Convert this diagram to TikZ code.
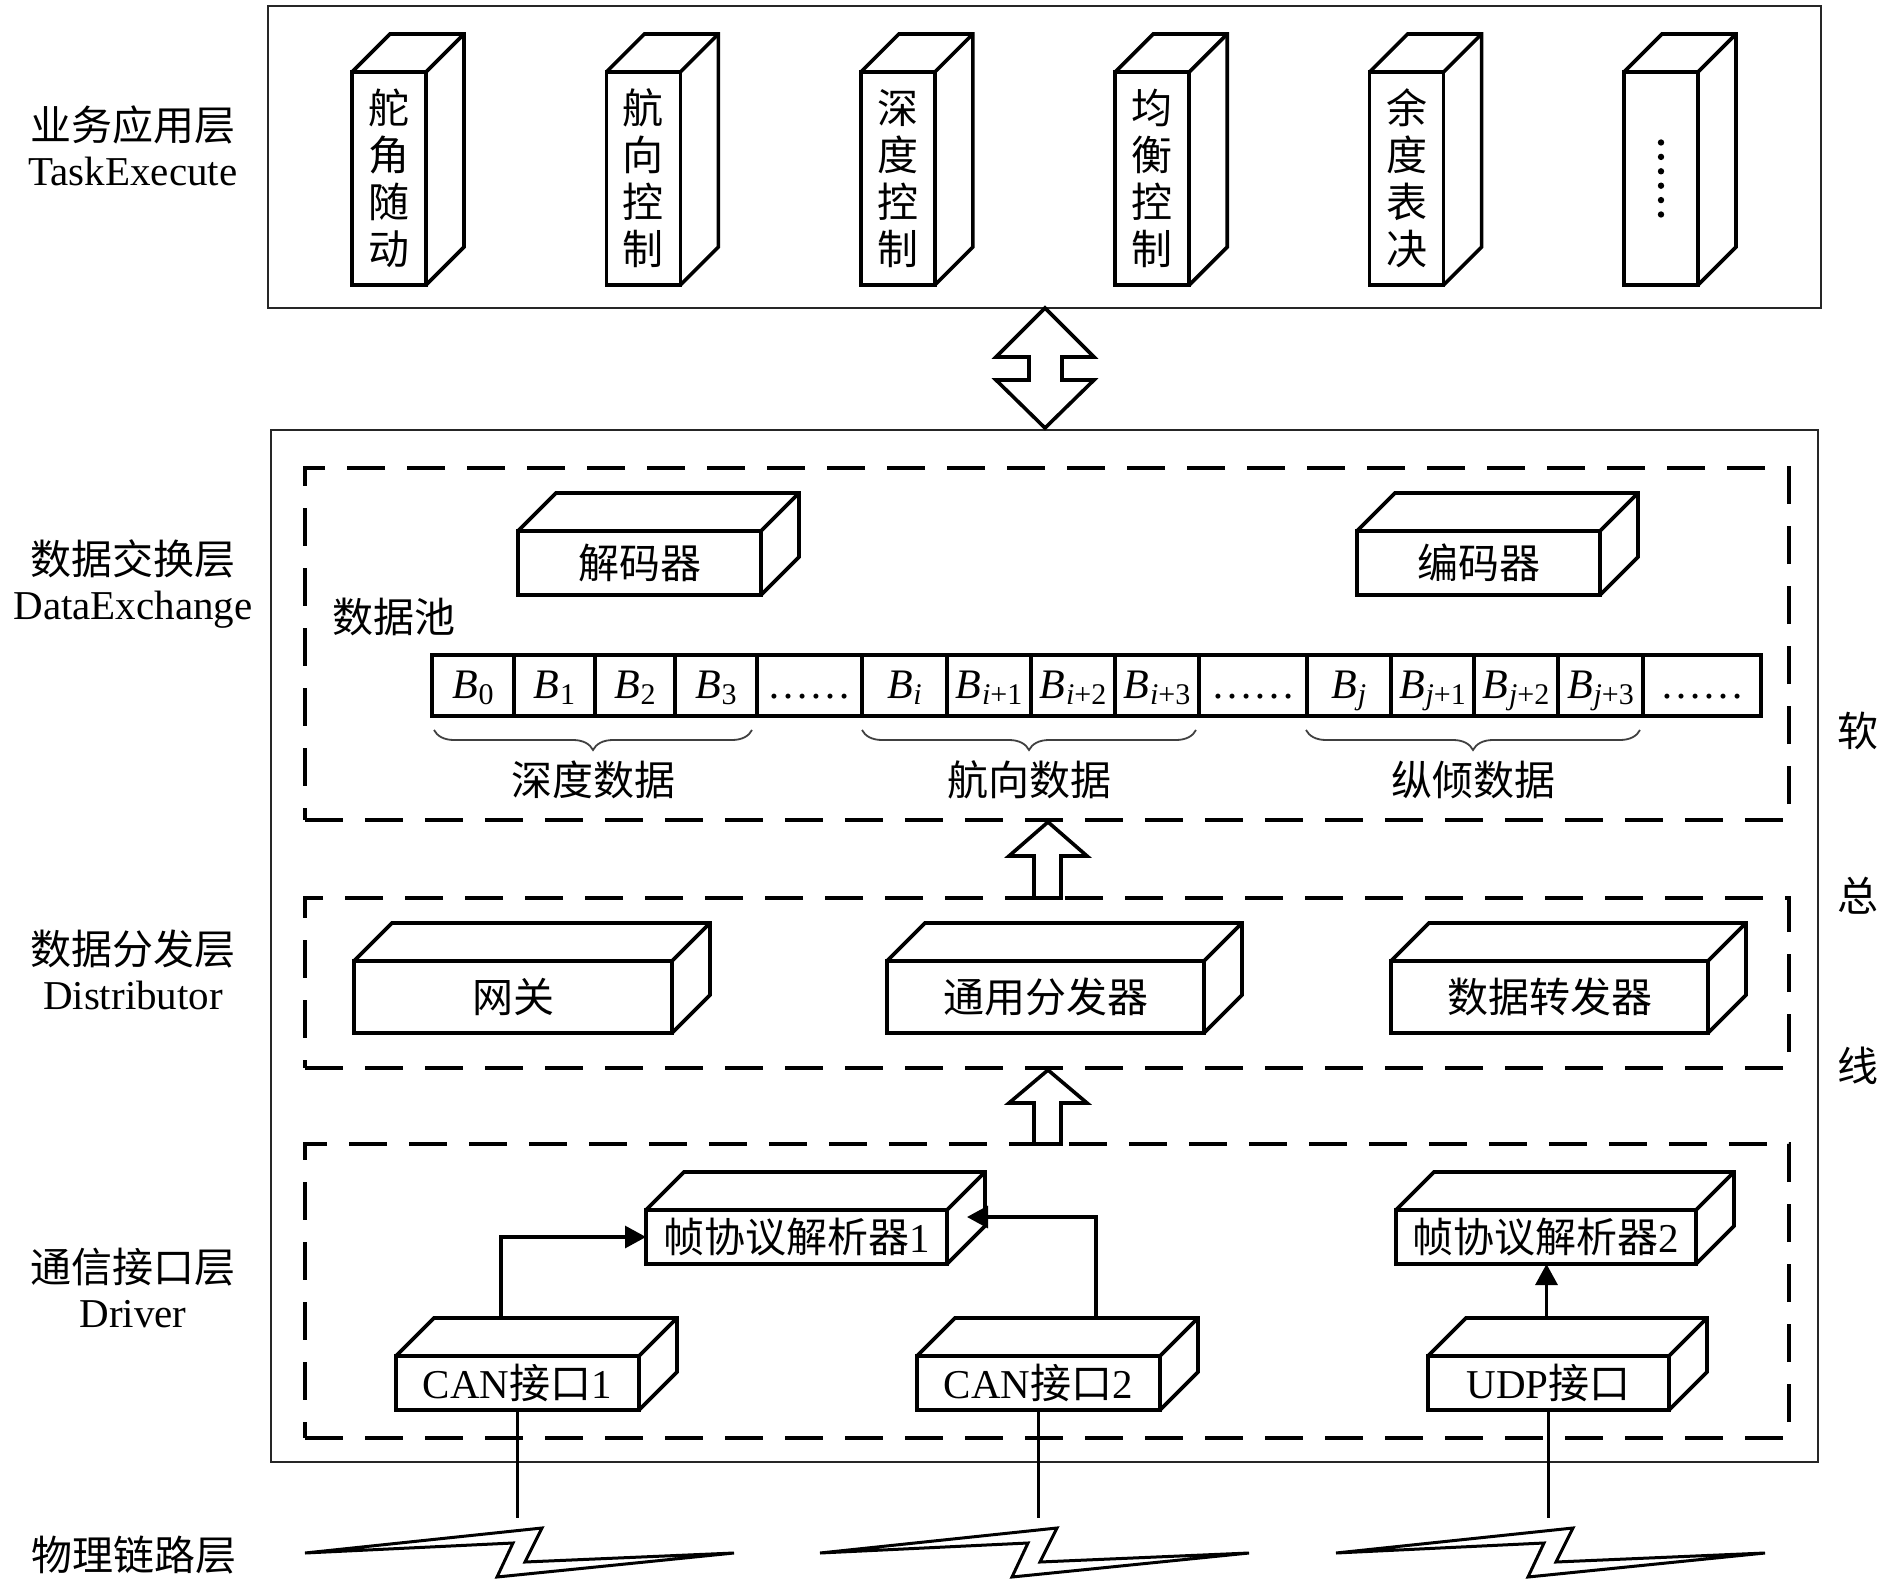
\documentclass[tikz,border=0pt]{standalone}
\usepackage{fontspec}
\setmainfont{Liberation Serif}
\newfontfamily\cjk{Noto Sans CJK SC}
\usetikzlibrary{arrows.meta,calc,decorations.pathreplacing}

\newcommand{\Bx}[1]{\textit{B}\kern0.3pt\raisebox{-3pt}{\fontsize{15}{15}\selectfont #1}}

\tikzset{
  every node/.style={font=\fontsize{20.5}{24}\selectfont, inner sep=0pt, outer sep=0pt},
  face/.style={draw, line width=1.8pt, fill=white, outer sep=0pt},
  facel/.style={line width=1.8pt},
  outerbox/.style={draw=black!85, line width=1.4pt},
  dashbox/.style={draw, line width=2pt, dash pattern=on 19pt off 11pt},
  conn/.style={line width=1.6pt, -{Triangle[length=10.5pt,width=11pt]}},
  wire/.style={line width=1.3pt},
  blockarrow/.style={line width=1.8pt, fill=white, line join=miter},
  bracel/.style={decorate, decoration={brace, mirror, amplitude=10pt}, line width=0.9pt, draw=black!75},
  cell/.style={draw, line width=1.6pt, minimum height=30.5pt, inner sep=0pt},
  celltext/.style={anchor=base, font=\fontsize{21}{24}\selectfont},
  zig/.style={line width=1.5pt, line join=miter},
  pillartext/.style={align=center, font=\fontsize{20.5}{23.5}\selectfont\cjk},
  lbl/.style={align=center, font=\fontsize{20.5}{22.5}\selectfont},
}

\newcommand{\cuboid}[6]{%
  \node[face, minimum width=#4*0.5pt, minimum height=#5*0.5pt] (#1) at (#2,#3) {#6};
  \draw[facel] (#1.north west) -- ++(38,-38) -- ($(#1.north east)+(38,-38)$) -- ($(#1.south east)+(38,-38)$) -- (#1.south east);
  \draw[facel] (#1.north east) -- ++(38,-38);
}
\newcommand{\cellnode}[4]{%
  \node[cell, minimum width={(#3-#2)*0.5pt}] (#1) at ({(#2+#3)/2},685.5) {};
  \node[celltext] (#1t) at ({(#2+#3)/2},698) {#4};
}

\begin{document}
\begin{tikzpicture}[x=0.5pt,y=-0.5pt]
\useasboundingbox (0,0) rectangle (1890,1583);

% outer boxes
\node[outerbox, minimum width=776.5pt, minimum height=151pt] (app) at (1044.5,157) {};
\node[outerbox, minimum width=773.5pt, minimum height=516pt] (bus) at (1044.5,946) {};

% dashed layers
\node[dashbox, minimum width=742pt, minimum height=176pt] (dx) at (1047,644) {};
\node[dashbox, minimum width=742pt, minimum height=85pt] (dist) at (1047,983) {};
\node[dashbox, minimum width=742pt, minimum height=147pt] (drv) at (1047,1291) {};

% left labels
\node[lbl] (l1) at (133,146) {{\cjk 业务应用层}\\TaskExecute};
\node[lbl] (l2) at (133,584) {{\cjk 数据交换层}\\DataExchange};
\node[lbl] (l3) at (133,970) {{\cjk 数据分发层}\\Distributor};
\node[lbl] (l4) at (133,1288) {{\cjk 通信接口层}\\Driver};
\node[lbl] (l5) at (134,1555) {\cjk 物理链路层};

% right labels
\node (r1) at (1858,731) {\cjk 软};
\node (r2) at (1858,896) {\cjk 总};
\node (r3) at (1858,1066) {\cjk 线};

% pillars
\cuboid{p1}{389}{178.5}{74}{213}{}
\cuboid{p2}{643.4}{178.5}{74}{213}{}
\cuboid{p3}{897.8}{178.5}{74}{213}{}
\cuboid{p4}{1152.2}{178.5}{74}{213}{}
\cuboid{p5}{1406.6}{178.5}{74}{213}{}
\cuboid{p6}{1661}{178.5}{74}{213}{}
\node[pillartext] (t1) at (p1) {舵\\角\\随\\动};
\node[pillartext] (t2) at (p2) {航\\向\\控\\制};
\node[pillartext] (t3) at (p3) {深\\度\\控\\制};
\node[pillartext] (t4) at (p4) {均\\衡\\控\\制};
\node[pillartext] (t5) at (p5) {余\\度\\表\\决};
\foreach \k in {0,...,5} \fill ($(p6.center)+(0,-36+14.4*\k)$) circle[radius=1.6pt];

% double arrow
\draw[blockarrow] (1045,308) -- (1094,357) -- (1062,357) -- (1062,380) -- (1094,380) -- (1045,428)
  -- (996,380) -- (1029,380) -- (1029,357) -- (996,357) -- cycle;

% data exchange
\cuboid{dec}{639.5}{563}{243}{64}{\cjk 解码器}
\cuboid{enc}{1478.5}{563}{243}{64}{\cjk 编码器}
\node (pool) at (394,617) {\cjk 数据池};
\cellnode{c0}{432}{514}{\Bx{0}}
\cellnode{c1}{514}{595}{\Bx{1}}
\cellnode{c2}{595}{675}{\Bx{2}}
\cellnode{c3}{675}{757}{\Bx{3}}
\cellnode{c4}{757}{862}{……}
\cellnode{c5}{862}{947}{\Bx{\textit{i}}}
\cellnode{c6}{947}{1031}{\Bx{\textit{i}+1}}
\cellnode{c7}{1031}{1115}{\Bx{\textit{i}+2}}
\cellnode{c8}{1115}{1199}{\Bx{\textit{i}+3}}
\cellnode{c9}{1199}{1307}{……}
\cellnode{c10}{1307}{1391}{\Bx{\textit{j}}}
\cellnode{c11}{1391}{1474}{\Bx{\textit{j}+1}}
\cellnode{c12}{1474}{1558}{\Bx{\textit{j}+2}}
\cellnode{c13}{1558}{1643}{\Bx{\textit{j}+3}}
\cellnode{c14}{1643}{1761}{……}
\draw[bracel] (434,730) -- (752,730);
\draw[bracel] (862,730) -- (1196,730);
\draw[bracel] (1306,730) -- (1640,730);
\node (g1) at (593,780) {\cjk 深度数据};
\node (g2) at (1029,780) {\cjk 航向数据};
\node (g3) at (1473,780) {\cjk 纵倾数据};

% up arrows
\draw[blockarrow] (1048,822) -- (1087,856) -- (1061,856) -- (1061,898) -- (1034,898) -- (1034,856) -- (1009,856) -- cycle;
\draw[blockarrow] (1048,1070) -- (1087,1103) -- (1061,1103) -- (1061,1144) -- (1034,1144) -- (1034,1103) -- (1009,1103) -- cycle;

% distributor
\cuboid{gw}{513}{997}{318}{72}{\cjk 网关}
\cuboid{gen}{1045.5}{997}{317}{72}{\cjk 通用分发器}
\cuboid{fwd}{1549.5}{997}{317}{72}{\cjk 数据转发器}

% driver
\cuboid{fp1}{796.5}{1237}{301}{54}{{\cjk 帧协议解析器}1}
\cuboid{fp2}{1546}{1237}{300}{54}{{\cjk 帧协议解析器}2}
\cuboid{can1}{517.5}{1383}{243}{54}{CAN{\cjk 接口}1}
\cuboid{can2}{1038.5}{1383}{243}{54}{CAN{\cjk 接口}2}
\cuboid{udp}{1548.5}{1383}{241}{54}{UDP{\cjk 接口}}

\coordinate (a1) at ($(can1.north west)+(105,-39)$);
\coordinate (a2) at ($(can2.north west)+(179,-39)$);
\coordinate (a2e) at ($(fp1.north east)+(20,7)$);
\coordinate (a3) at ($(udp.north)+(-2,-39)$);
\draw[conn] (a1) |- (fp1.west);
\draw[conn] (a2) |- (a2e);
\draw[conn] (a3) -- (a3 |- fp2.south);

% physical links
\coordinate (w1) at (517.5,1518);
\coordinate (w2) at (1038.5,1518);
\coordinate (w3) at (1548.5,1518);
\draw[wire] (can1.south) -- (w1);
\draw[wire] (can2.south) -- (w2);
\draw[wire] (udp.south) -- (w3);
\foreach \s in {0,515,1031}{
  \draw[zig] ($(305,1553)+(\s,0)$) -- ($(542,1528)+(\s,0)$) -- ($(525,1562)+(\s,0)$) -- ($(734,1553)+(\s,0)$)
    -- ($(497,1577)+(\s,0)$) -- ($(513,1543)+(\s,0)$) -- cycle;
}
\end{tikzpicture}
\end{document}
